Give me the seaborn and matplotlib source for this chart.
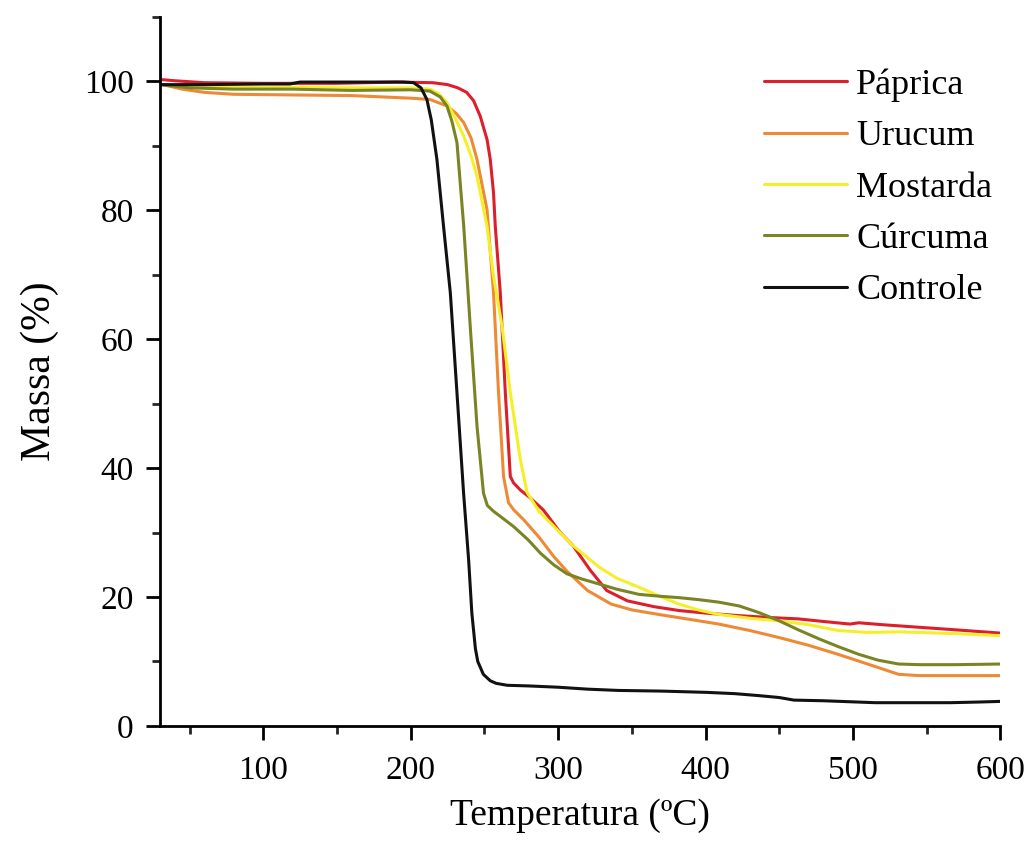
import pandas as pd
import matplotlib
matplotlib.use('Agg')
import matplotlib.pyplot as plt
from matplotlib.ticker import MultipleLocator
from matplotlib.lines import Line2D
import seaborn as sns

# TGA curves: temperature (ºC) and mass (%)
paprica_t = [30, 40, 60, 100, 150, 190, 215, 225, 232, 238, 242.7, 247.2, 251.8, 254, 256.2, 257.4,
             260.8, 264.2, 267.6, 269.8, 274.4, 281, 290, 301.5, 310, 322, 333, 347, 365, 382,
             400, 423, 445, 463, 480, 498, 504, 520, 545, 570, 600]
paprica_m = [100.3, 100.1, 99.8, 99.7, 99.7, 99.9, 99.8, 99.5, 99.0, 98.3, 97.0, 94.6, 91.0, 87.9, 82.7, 77.5,
             67.2, 51.7, 38.7, 37.7, 36.6, 35.4, 33.5, 30.0, 28.0, 24.1, 21.0, 19.4, 18.5, 17.9,
             17.5, 17.1, 16.8, 16.6, 16.2, 15.8, 16.0, 15.7, 15.3, 14.9, 14.4]

urucum_t = [30, 45, 60, 80, 120, 160, 200, 213, 224.6, 231, 236, 241, 245, 251.8, 256.2, 259.6, 263, 266.4,
            270, 276.6, 287, 297, 306, 320, 336, 350, 368, 390, 409, 430, 450, 470, 490, 510,
            531, 545, 570, 600]
urucum_m = [99.6, 98.8, 98.3, 98.0, 97.9, 97.8, 97.4, 97.2, 96.2, 95.0, 93.6, 91.2, 87.9, 80.1, 67.2, 51.7, 38.7, 34.6,
            33.5, 32.0, 29.3, 26.3, 24.0, 21.0, 18.9, 18.0, 17.3, 16.5, 15.8, 14.8, 13.7, 12.5, 11.1, 9.6,
            8.0, 7.8, 7.8, 7.8]

mostarda_t = [30, 50, 80, 120, 160, 200, 213, 219, 224.6, 230, 236, 241, 245, 251.8, 256.2, 262, 267.6, 274.4, 279,
              287, 297, 310, 328, 340, 355, 370, 382, 395, 409, 430, 450, 470, 490, 510, 530,
              545, 570, 600]
mostarda_m = [99.5, 99.2, 99.1, 99.1, 99.0, 99.0, 98.8, 98.1, 96.7, 94.4, 91.5, 88.4, 85.3, 77.5, 69.8, 62.0, 51.7, 41.3, 36.2,
              33.3, 31.0, 28.0, 24.6, 22.9, 21.5, 20.0, 18.9, 18.0, 17.3, 16.7, 16.3, 15.7, 14.8, 14.5, 14.6,
              14.5, 14.3, 14.0]

curcuma_t = [30, 50, 80, 120, 160, 200, 213, 220, 224.6, 228, 231.4, 236, 240.4, 245, 249.4, 252,
             256.2, 262, 270, 280, 288, 297, 306, 316, 328, 340, 355, 370, 382, 395, 409, 423,
             436, 450, 463, 477, 490, 504, 517, 531, 545, 570, 600]
curcuma_m = [99.5, 99.0, 98.8, 98.8, 98.6, 98.7, 98.5, 97.6, 96.2, 93.8, 90.5, 77.5, 62.0, 46.5, 36.1, 34.2,
             33.3, 32.3, 30.9, 28.8, 26.8, 25.0, 23.6, 22.8, 22.0, 21.2, 20.4, 20.1, 19.9, 19.6, 19.2, 18.6,
             17.6, 16.3, 14.9, 13.5, 12.3, 11.1, 10.2, 9.6, 9.5, 9.5, 9.6]

controle_t = [30, 60, 100, 118, 125, 160, 195, 202, 207, 211, 214, 217.8, 222.3, 226.9, 231.4, 235.9,
              239.3, 241.5, 243.9, 245.5, 249.3, 254, 258, 265.5, 280, 300, 320, 341, 370, 401,
              420, 436, 450, 460, 480, 515, 540, 566, 585, 600]
controle_m = [99.5, 99.5, 99.6, 99.6, 99.9, 99.9, 99.9, 99.8, 99.0, 97.2, 94.0, 87.9, 77.5, 67.2, 51.7, 36.1,
              25.8, 17.5, 12.0, 10.0, 8.0, 7.0, 6.6, 6.3, 6.2, 6.0, 5.7, 5.5, 5.4, 5.2,
              5.0, 4.7, 4.4, 4.0, 3.9, 3.6, 3.6, 3.6, 3.7, 3.8]

samples = ['Páprica', 'Urucum', 'Mostarda', 'Cúrcuma', 'Controle']
colors = ['#dc1f2a', '#ee8a36', '#f5ef2a', '#7b8424', '#111111']

series = [(paprica_t, paprica_m), (urucum_t, urucum_m), (mostarda_t, mostarda_m),
          (curcuma_t, curcuma_m), (controle_t, controle_m)]
frames = []
for name, (t, m) in zip(samples, series):
    frames.append(pd.DataFrame({'Temperatura': t, 'Massa': m, 'Amostra': name}))
df = pd.concat(frames, ignore_index=True)

sns.set_style("ticks")
plt.rcParams['font.family'] = ['Liberation Serif', 'DejaVu Serif']
plt.rcParams['text.color'] = 'black'
plt.rcParams['axes.labelcolor'] = 'black'

fig = plt.figure(figsize=(10.26, 8.48), dpi=100)
ax = fig.add_axes([0.156, 0.144, 0.819, 0.836])

palette = dict(zip(samples, colors))
sns.lineplot(
    data=df,
    x='Temperatura',
    y='Massa',
    hue='Amostra',
    hue_order=samples,
    palette=palette,
    estimator=None,
    sort=False,
    linewidth=2.2,
    legend=False,
    ax=ax
)

ax.set_xlim(30, 600)
ax.set_ylim(0, 110)
ax.xaxis.set_minor_locator(MultipleLocator(50))
ax.yaxis.set_minor_locator(MultipleLocator(10))
ax.set_xticks([100, 200, 300, 400, 500, 600])
ax.set_yticks([0, 20, 40, 60, 80, 100])

for side in ['top', 'right']:
    ax.spines[side].set_visible(False)
for side in ['left', 'bottom']:
    ax.spines[side].set_linewidth(2.0)
    ax.spines[side].set_color('black')

ax.tick_params(which='major', direction='out', length=10, width=2.0, labelsize=24, colors='black')
ax.tick_params(axis='x', which='major', pad=11)
ax.tick_params(axis='y', which='major', pad=9)
ax.tick_params(which='minor', direction='out', length=6, width=2.0)

ax.set_xlabel("Temperatura (ºC)", fontsize=27, labelpad=9)
ax.set_ylabel("Massa (%)", fontsize=30, labelpad=18)

handles = [Line2D([0], [0], color=c, lw=2.2) for c in colors]
ax.legend(handles, samples, loc='upper right', bbox_to_anchor=(1.016, 0.958), frameon=False,
          fontsize=26, handlelength=2.3, handletextpad=0.25, labelspacing=0.5, borderaxespad=0.2)

plt.savefig('out.png', dpi=100)
